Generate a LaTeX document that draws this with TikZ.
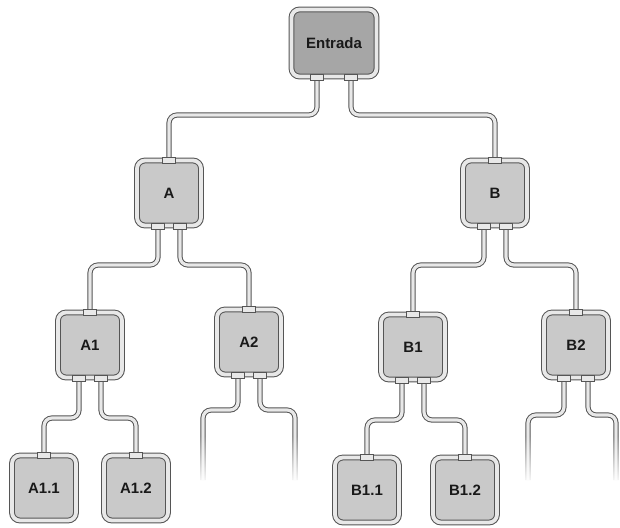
\documentclass[tikz,border=0pt]{standalone}
\usepackage{fontspec}
\setmainfont{Liberation Sans}
\usetikzlibrary{fadings}
\definecolor{dk}{HTML}{555555}
\definecolor{lt}{HTML}{E8E8E8}
\definecolor{fillg}{HTML}{C9C9C9}
\definecolor{filld}{HTML}{A6A6A6}
\begin{document}
\begin{tikzpicture}[x=1pt,y=-1pt,
 box/.style={rectangle, rounded corners=8pt, draw=dk, line width=1pt, double=lt, double distance=3.8pt, fill=fillg, minimum width=64pt, minimum height=65pt, inner sep=0pt, font=\fontsize{15}{17}\selectfont\bfseries, text=black!90},
 pipe/.style={draw=dk, line width=1pt, double=lt, double distance=3.2pt, rounded corners=8pt},
 tab/.style={rectangle, draw=dk, line width=0.8pt, fill=lt, minimum width=13pt, minimum height=6pt, inner sep=0pt}]
\useasboundingbox (0,0) rectangle (620,527);
% boxes
\node[box, fill=filld, minimum width=85pt, minimum height=67pt] (E) at (334,43) {Entrada};
\node[box] (A) at (169,193) {A};
\node[box] (B) at (495,193) {B};
\node[box] (A1) at (90,345) {A1};
\node[box] (A2) at (249,342) {A2};
\node[box] (B1) at (413,347) {B1};
\node[box] (B2) at (576,345) {B2};
\node[box] (A11) at (44,488) {A1.1};
\node[box] (A12) at (136,488) {A1.2};
\node[box] (B11) at (367,490) {B1.1};
\node[box] (B12) at (465,490) {B1.2};
% ports
\coordinate (Ea) at ([xshift=-17pt]E.south);
\coordinate (Eb) at ([xshift=17pt]E.south);
\coordinate (Aa) at ([xshift=-11pt]A.south);
\coordinate (Ab) at ([xshift=11pt]A.south);
\coordinate (Ba) at ([xshift=-11pt]B.south);
\coordinate (Bb) at ([xshift=11pt]B.south);
\coordinate (A1a) at ([xshift=-11pt]A1.south);
\coordinate (A1b) at ([xshift=11pt]A1.south);
\coordinate (A2a) at ([xshift=-11pt]A2.south);
\coordinate (A2b) at ([xshift=11pt]A2.south);
\coordinate (B1a) at ([xshift=-11pt]B1.south);
\coordinate (B1b) at ([xshift=11pt]B1.south);
\coordinate (B2a) at ([xshift=-12pt]B2.south);
\coordinate (B2b) at ([xshift=12pt]B2.south);
\coordinate (A2l) at (203,480);
\coordinate (A2r) at (295,480);
\coordinate (B2l) at (528,480);
\coordinate (B2r) at (616,480);
% pipes
\draw[pipe] (Ea) -- (Ea |- 0,115) -| (A.north);
\draw[pipe] (Eb) -- (Eb |- 0,115) -| (B.north);
\draw[pipe] (Aa) -- (Aa |- 0,265) -| (A1.north);
\draw[pipe] (Ab) -- (Ab |- 0,265) -| (A2.north);
\draw[pipe] (Ba) -- (Ba |- 0,265) -| (B1.north);
\draw[pipe] (Bb) -- (Bb |- 0,265) -| (B2.north);
\draw[pipe] (A1a) -- (A1a |- 0,418) -| (A11.north);
\draw[pipe] (A1b) -- (A1b |- 0,418) -| (A12.north);
\draw[pipe] (B1a) -- (B1a |- 0,420) -| (B11.north);
\draw[pipe] (B1b) -- (B1b |- 0,420) -| (B12.north);
\draw[pipe] (A2a) -- (A2a |- 0,410) -| (A2l);
\draw[pipe] (A2b) -- (A2b |- 0,410) -| (A2r);
\draw[pipe] (B2a) -- (B2a |- 0,415) -| (B2l);
\draw[pipe] (B2b) -- (B2b |- 0,415) -| (B2r);
% fade the open ends
\fill[white, path fading=north] (193,436) rectangle (213,484);
\fill[white, path fading=north] (285,436) rectangle (305,484);
\fill[white, path fading=north] (518,436) rectangle (538,484);
\fill[white, path fading=north] (606,436) rectangle (620,484);
% tabs
\foreach \p in {Ea,Eb,Aa,Ab,Ba,Bb,A1a,A1b,A2a,A2b,B1a,B1b,B2a,B2b}
  \node[tab] (t\p) at (\p) {};
\foreach \n in {A,B,A1,A2,B1,B2,A11,A12,B11,B12}
  \node[tab] (n\n) at (\n.north) {};
\end{tikzpicture}
\end{document}
